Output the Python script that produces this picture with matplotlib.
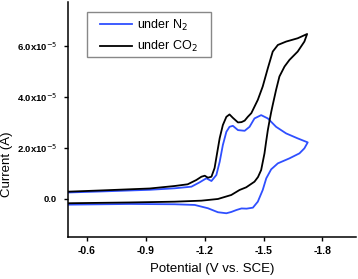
import matplotlib
matplotlib.use("Agg")
import matplotlib.pyplot as plt
from matplotlib.patches import Rectangle

plt.rcParams['font.family'] = ['Liberation Sans', 'DejaVu Sans']

# CO2 scan (potential in V, current in 1e-5 A), forward then return
co2_v = [-0.505, -0.668, -0.921, -1.048, -1.114, -1.158, -1.184, -1.201, -1.217,
         -1.235, -1.251, -1.265, -1.277, -1.293, -1.311, -1.327, -1.344, -1.370,
         -1.388, -1.404, -1.420, -1.438, -1.471, -1.496, -1.522, -1.547, -1.573,
         -1.615, -1.674, -1.722,
         -1.708, -1.674, -1.632, -1.607, -1.581, -1.564, -1.547, -1.539, -1.530,
         -1.522, -1.513, -1.505, -1.488, -1.472, -1.454, -1.412, -1.378, -1.336,
         -1.268, -1.184, -1.048, -0.820, -0.505]
co2_i = [0.275, 0.322, 0.400, 0.498, 0.565, 0.733, 0.863, 0.902, 0.824,
         0.863, 1.204, 1.843, 2.381, 2.891, 3.216, 3.310, 3.177, 2.996,
         3.008, 3.067, 3.216, 3.361, 3.883, 4.408, 5.126, 5.781, 6.040,
         6.173, 6.303, 6.471,
         6.173, 5.781, 5.452, 5.193, 4.801, 4.275, 3.687, 3.400, 3.036,
         2.694, 2.224, 1.781, 1.126, 0.851, 0.667, 0.447, 0.341, 0.145,
         -0.012, -0.078, -0.118, -0.149, -0.180]

# N2 scan
n2_v = [-0.505, -0.668, -0.921, -1.048, -1.133, -1.175, -1.209, -1.235, -1.260,
        -1.277, -1.293, -1.311, -1.327, -1.344, -1.370, -1.404, -1.429, -1.454,
        -1.488, -1.522, -1.564, -1.615, -1.674, -1.725,
        -1.708, -1.683, -1.632, -1.573, -1.539, -1.514, -1.496, -1.471, -1.446,
        -1.414, -1.388, -1.363, -1.336, -1.311, -1.268, -1.217, -1.150, -1.048,
        -0.820, -0.505]
n2_i = [0.243, 0.282, 0.349, 0.408, 0.471, 0.643, 0.800, 0.694, 0.930,
        1.451, 2.106, 2.628, 2.824, 2.863, 2.694, 2.667, 2.824, 3.153,
        3.283, 3.153, 2.824, 2.565, 2.369, 2.212,
        1.977, 1.781, 1.584, 1.388, 1.153, 0.800, 0.341, -0.118, -0.353,
        -0.392, -0.384, -0.443, -0.522, -0.573, -0.533, -0.376, -0.247, -0.220,
        -0.208, -0.235]

x_ticks = [-0.6, -0.9, -1.2, -1.5, -1.8]
y_ticks = [0.0, 2e-5, 4e-5, 6e-5]
y_labels = ['0.0', '2.0x10$^{-5}$', '4.0x10$^{-5}$', '6.0x10$^{-5}$']

fig = plt.figure(figsize=(3.58, 2.79), dpi=100)
ax = fig.add_axes([0.19, 0.152, 0.804, 0.841])

ax.plot(n2_v, [v * 1e-5 for v in n2_i], color='#2f4fff', lw=1.3, label='under N$_2$')
ax.plot(co2_v, [v * 1e-5 for v in co2_i], color='black', lw=1.3, label='under CO$_2$')

ax.set_xlim(-0.505, -1.97)
ax.set_ylim(-1.49e-5, 7.73e-5)
ax.set_xticks(x_ticks)
ax.set_xticklabels([f'{t:.1f}' for t in x_ticks], fontsize=7.5, fontweight='bold')
ax.set_yticks(y_ticks)
ax.set_yticklabels(y_labels, fontsize=6.8, fontweight='bold')
ax.tick_params(direction='out', length=3, width=1)
ax.tick_params(axis='x', pad=4)
ax.tick_params(axis='y', pad=5)

for s in ['top', 'right']:
    ax.spines[s].set_visible(False)
for s in ['left', 'bottom']:
    ax.spines[s].set_linewidth(1.1)

ax.set_xlabel('Potential (V vs. SCE)', fontsize=9.5, labelpad=5)
ax.set_ylabel('Current (A)', fontsize=9.5)
ax.yaxis.set_label_coords(-0.19, 0.31)

leg = ax.legend(loc='upper left', bbox_to_anchor=(0.279, 0.937),
                bbox_transform=fig.transFigure, borderaxespad=0, borderpad=0,
                fontsize=9, frameon=False, handlelength=2.6,
                handletextpad=0.4, labelspacing=0.5)
# legend frame is wider than tall padding allows, draw it separately
fig.patches.append(Rectangle((0.243, 0.796), 0.346, 0.161, transform=fig.transFigure,
                             fill=False, edgecolor='#888888', linewidth=1))

fig.savefig('out.png', dpi=100)
